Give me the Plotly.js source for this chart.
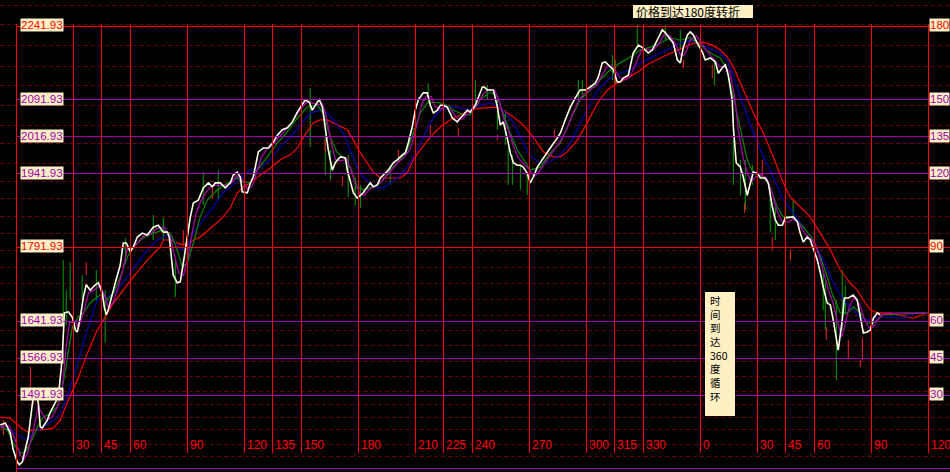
<!DOCTYPE html>
<html><head><meta charset="utf-8">
<script src="https://cdn.plot.ly/plotly-3.0.1.min.js"></script>
<style>html,body{margin:0;padding:0;background:#000;}#chart{width:950px;height:472px;}
#chart .shapelayer path{shape-rendering:crispEdges;}</style>
</head><body><div id="chart"></div>
<script>
// ---------- DATA (time in degrees, price in points) ----------
const gannPrices = [2241.93, 2091.93, 2016.93, 1941.93, 1791.93, 1641.93, 1566.93, 1491.93, 1341.93];
const gannPriceDeg = ['180', '150', '135', '120', '90', '60', '45', '30', ''];
const gannPriceColor = ['#FF0000', '#A000B0', '#A000B0', '#A000B0', '#FF0000', '#A000B0', '#A000B0', '#A000B0', '#A000B0'];
const timeDegrees = [30, 45, 60, 90, 120, 135, 150, 180, 210, 225, 240, 270, 300, 315, 330, 360, 390, 405, 420, 450, 480];
const timeLabels = ['30','45','60','90','120','135','150','180','210','225','240','270','300','315','330','0','30','45','60','90','120'];

const closeX = [-8.4,-5.8,-3.2,-1.6,0.5,1.6,3.2,4.7,6.3,8.9,10.0,11.6,12.6,13.7,16.3,17.9,20.5,22.1,23.2,24.2,25.3,27.4,29.5,31.1,32.1,33.7,35.3,36.8,38.9,41.6,43.2,45.3,46.3,47.4,48.4,50.5,52.1,54.7,56.3,57.9,60.0,61.6,63.7,66.3,68.9,72.1,74.7,77.4,79.5,80.5,81.6,82.6,84.7,86.3,87.9,90.0,91.6,93.2,95.8,98.4,101.1,103.2,104.7,107.4,110.0,112.6,114.2,116.3,117.9,118.9,121.6,123.2,124.7,127.4,130.0,132.6,135.3,137.4,140.0,142.6,145.3,147.9,150.5,152.1,154.2,155.8,158.4,159.5,161.1,162.6,164.2,166.3,167.9,170.5,173.2,174.2,175.8,177.4,179.5,181.1,182.6,184.7,186.3,187.9,190.0,191.6,193.2,195.8,198.4,200.5,203.2,204.7,206.3,208.4,210.0,211.6,214.2,216.3,217.9,219.5,221.6,223.2,224.7,226.8,229.5,232.1,233.7,235.3,237.4,238.9,241.6,243.2,245.3,246.3,247.9,251.1,253.2,254.7,256.3,258.4,260.0,261.6,263.7,265.3,266.8,268.9,270.5,272.1,274.2,276.8,279.5,282.1,284.7,286.3,288.9,291.6,294.2,296.8,299.5,302.1,304.7,306.3,308.4,310.0,312.6,314.2,316.3,317.9,319.5,322.1,324.7,327.4,330.0,332.6,334.7,337.4,340.0,341.6,343.2,345.8,347.9,349.5,351.1,353.2,354.7,356.3,358.4,361.1,362.6,365.3,367.9,369.5,371.6,373.2,374.7,376.8,377.4,378.9,381.1,382.6,384.7,386.3,387.9,390.0,391.6,394.2,395.8,397.9,399.5,401.1,403.2,404.7,407.4,408.9,411.1,412.6,414.2,416.3,417.9,419.5,421.6,423.2,424.7,426.8,428.4,430.0,431.6,432.6,434.7,435.8,437.9,440.5,442.6,444.2,445.8,447.9,449.5,451.1,453.2,454.7];
const closeY = [1431,1435,1415,1380,1356,1350,1356,1380,1407,1488,1502,1476,1427,1425,1441,1457,1476,1488,1529,1569,1659,1661,1650,1624,1620,1650,1691,1716,1705,1716,1720,1699,1671,1655,1665,1699,1720,1756,1801,1801,1783,1793,1813,1821,1817,1833,1837,1823,1823,1813,1766,1736,1720,1722,1760,1813,1854,1882,1888,1913,1923,1915,1923,1923,1913,1923,1939,1945,1935,1905,1903,1923,1935,1986,1994,1994,2006,2020,2031,2035,2047,2067,2081,2092,2087,2071,2087,2092,2077,2037,1990,1949,1964,1976,1974,1949,1923,1903,1892,1898,1903,1915,1923,1915,1919,1933,1939,1949,1964,1970,1980,1984,2004,2037,2071,2092,2106,2106,2081,2065,2071,2081,2081,2077,2055,2047,2055,2061,2071,2067,2081,2098,2118,2118,2112,2112,2077,2041,2047,2014,1984,1964,1959,1959,1955,1943,1923,1935,1955,1970,1984,2000,2014,2024,2051,2077,2096,2112,2112,2118,2126,2138,2167,2169,2159,2153,2128,2128,2136,2142,2187,2203,2197,2187,2193,2213,2234,2228,2220,2207,2173,2167,2199,2224,2230,2224,2207,2189,2173,2177,2169,2146,2157,2163,2142,2092,2037,1964,1955,1935,1898,1923,1945,1943,1933,1933,1923,1874,1848,1837,1837,1852,1854,1854,1844,1821,1803,1813,1807,1791,1766,1740,1711,1679,1675,1644,1604,1583,1644,1689,1689,1695,1685,1650,1618,1620,1624,1648,1659,1655];

const ma5X = [-8.4,-4,-1,2,4,6,9,11.5,13.5,16,19,22,24,26,28,31,33,35.5,38,41,44,46.5,48.5,51,53.5,56,58.5,61,63.5,67,70,74,78,81,83,85.5,88,90,92,94.5,97,100,103,106,110,113,116,119,121.5,124,126,129,132,135,138,141,144,147,150,153,156,159,161,163,165.5,168,171,174,176,178.5,181,183,186,189,192,195,198,201,204,207,209.5,211.5,213.5,216,218.5,220.5,223,226,229,232,234.5,237,240,243,246,249,252,254.5,256.5,259,261.5,264,267,270,272.5,275,278,281,284,287,290,293,296,299,302,305,308,311,314,317,320,323,326,329,332,335,338,341,344,347,350,352,355,358,361,364,367,370,373,375.5,378,380,382.5,385,387,389,392,395,398,400.5,403,406,409,412,415,418,421,423,425,427.5,430,432.5,434.5,436.5,438.5,441,444,446.5,449,451,453.5,456,465,479.5];
const ma5Y = [1427,1430,1405,1370,1360,1375,1420,1470,1455,1440,1448,1470,1500,1580,1640,1640,1630,1660,1700,1705,1715,1695,1668,1680,1710,1745,1790,1790,1800,1815,1818,1830,1832,1815,1780,1740,1735,1765,1810,1860,1885,1905,1918,1918,1918,1922,1938,1930,1912,1915,1940,1975,1992,2000,2015,2028,2040,2058,2075,2088,2085,2082,2085,2060,2010,1970,1968,1972,1950,1920,1900,1898,1910,1918,1925,1938,1952,1965,1975,1990,2020,2055,2085,2100,2098,2078,2073,2078,2070,2055,2052,2062,2070,2085,2105,2113,2110,2085,2055,2030,2000,1975,1962,1950,1935,1945,1962,1978,1995,2012,2035,2065,2090,2105,2113,2120,2140,2160,2160,2140,2132,2138,2165,2192,2195,2192,2205,2225,2222,2205,2180,2185,2215,2222,2205,2188,2175,2160,2158,2150,2100,2030,1975,1940,1925,1935,1940,1932,1900,1865,1845,1843,1850,1840,1820,1810,1795,1770,1740,1705,1678,1635,1610,1640,1672,1690,1675,1645,1628,1630,1645,1657,1659,1659];

const ma10X = [-8.4,-4.7,-1.6,2.1,4.7,7.4,11.1,14.2,17.9,21.6,24.7,26.8,29.5,32.6,35.3,38.9,42.6,45.8,47.9,51.1,54.7,58.4,61.6,66.8,72.1,77.4,81.1,84.7,87.4,90.0,93.2,96.8,100.5,105.8,111.1,116.3,118.9,123.2,126.8,132.1,137.4,142.6,147.9,153.2,158.4,161.6,165.3,168.9,172.1,175.8,179.5,182.6,186.3,191.6,196.8,202.1,205.8,208.9,212.6,216.3,219.5,224.7,230.0,235.3,238.9,244.2,249.5,253.2,256.3,260.0,263.7,266.8,270.5,275.8,281.1,286.3,291.6,296.8,302.1,307.4,312.6,317.9,323.2,328.4,333.7,338.9,344.2,349.5,354.7,360.0,365.3,370.5,374.2,377.4,381.1,384.7,387.9,393.2,396.8,400.5,403.7,408.9,414.2,419.5,423.2,426.8,430.0,433.7,437.4,440.5,444.2,447.9,451.1,456.3,479.5];
const ma10Y = [1427,1421,1394,1374,1376,1394,1427,1447,1455,1468,1516,1569,1630,1650,1659,1679,1691,1699,1685,1699,1732,1772,1793,1811,1821,1827,1821,1787,1752,1760,1801,1854,1888,1909,1923,1933,1925,1923,1949,1976,2004,2027,2055,2077,2081,2065,2016,1984,1976,1955,1915,1909,1913,1923,1949,1970,1990,2024,2065,2085,2087,2085,2071,2061,2061,2092,2108,2098,2065,2024,1990,1970,1949,1955,1984,2004,2051,2092,2112,2132,2153,2167,2179,2193,2199,2207,2218,2213,2218,2203,2187,2177,2153,2098,2031,1970,1943,1935,1915,1874,1854,1854,1833,1807,1772,1732,1691,1659,1659,1671,1659,1638,1638,1655,1659];

const ma20X = [-8.4,-3.2,2.1,5.8,8.9,14.2,19.5,23.2,26.8,32.1,37.4,42.6,47.9,53.2,58.4,63.7,68.9,74.2,79.5,82.6,86.3,90.0,93.2,98.4,103.7,108.9,114.2,117.9,123.2,128.4,133.7,138.9,144.2,149.5,154.7,160.0,163.7,166.8,172.1,175.8,179.5,182.6,186.3,190.0,193.2,196.8,200.5,203.7,207.4,211.1,214.2,217.9,221.6,226.8,232.1,237.4,244.2,249.5,253.2,256.3,261.6,266.8,270.5,275.8,281.1,286.3,291.6,296.8,302.1,307.4,312.6,317.9,323.2,328.4,333.7,338.9,344.2,349.5,354.7,360.0,365.3,370.5,374.2,377.4,382.6,387.9,393.2,398.4,403.7,408.9,414.2,419.5,424.7,430.0,435.3,440.5,444.2,447.9,453.2,460.0,466.8,474.2,479.5];
const ma20Y = [1427,1421,1407,1400,1415,1427,1441,1455,1488,1557,1624,1685,1691,1705,1732,1760,1787,1807,1817,1807,1787,1793,1821,1848,1874,1903,1919,1933,1949,1955,1970,1996,2016,2041,2065,2071,2065,2051,2024,1990,1955,1935,1923,1913,1913,1923,1933,1945,1964,1990,2016,2045,2065,2077,2077,2071,2081,2085,2081,2071,2045,2004,1976,1964,1966,1980,2004,2045,2085,2118,2136,2146,2153,2167,2177,2187,2197,2207,2213,2205,2195,2187,2173,2138,2085,2024,1976,1935,1888,1862,1833,1807,1766,1720,1685,1665,1650,1644,1650,1650,1648,1659,1659];

const ma60X = [-8.4,-3.2,2.1,5.8,8.9,14.2,19.5,23.2,26.8,32.1,37.4,42.6,45.8,51.1,56.3,61.6,68.9,75.8,77.4,81.1,84.7,87.9,91.6,96.8,102.1,107.4,112.6,116.3,119.5,123.2,128.4,133.7,138.9,144.2,147.9,151.1,156.3,160.0,163.7,168.9,174.2,177.4,181.1,184.7,187.9,191.6,195.3,202.1,205.8,208.9,212.6,217.9,223.2,228.4,233.7,238.9,244.2,253.2,256.3,261.6,266.8,272.1,277.4,282.6,286.3,290.0,295.3,300.5,305.8,311.1,316.3,321.6,326.8,332.1,338.9,345.8,351.1,356.3,361.6,366.3,370.5,374.2,377.4,382.6,387.9,393.2,398.4,403.7,407.4,412.6,417.9,423.2,428.4,433.7,438.9,442.6,445.8,449.5,453.2,460.0,468.9,472.1,479.5];
const ma60Y = [1447,1445,1427,1417,1421,1421,1425,1441,1476,1522,1577,1624,1644,1679,1705,1732,1766,1793,1807,1807,1801,1797,1803,1813,1831,1848,1872,1903,1915,1923,1939,1953,1970,1980,1994,2016,2045,2051,2051,2041,2031,2010,1984,1964,1945,1933,1933,1933,1943,1970,1990,2016,2037,2051,2061,2071,2075,2077,2071,2057,2041,2016,1986,1976,1976,1986,2010,2045,2085,2112,2126,2136,2148,2163,2177,2189,2199,2207,2209,2203,2193,2179,2159,2112,2065,2024,1976,1923,1894,1874,1854,1821,1787,1746,1720,1705,1685,1665,1659,1659,1650,1648,1659];

const upBarX  = [-6.8,7.4,8.9,36.8,87.9,103.2,120.0,162.6,171.6,201.1,217.9,232.6,253.2,283.2,351.1,366.3,383.2,392.6,397.9,407.4,426.3,437.9,445.3,444.2];
const upBarHi = [1441,1549,1492,1762,1827,1913,1923,2010,1937,1990,2041,2035,2020,2031,2173,2163,1882,1970,1813,1787,1630,1604,1608,1563];
const upBarLo = [1411,1502,1472,1736,1797,1892,1894,1986,1917,1966,2020,2016,2010,2014,2157,2136,1862,1933,1787,1766,1604,1567,1563,1549];
const dnBarX  = [24.7,26.3,28.4,34.7,42.1,46.8,57.4,72.1,77.4,83.7,98.4,106.3,154.7,162.6,165.3,174.7,178.4,181.1,196.8,216.8,241.6,247.9,253.2,257.4,258.9,261.1,265.3,268.9,295.8,297.9,313.7,315.3,326.8,341.6,349.5,367.4,377.4,381.1,383.7,387.4,396.8,399.5,404.7,408.9,424.7,425.8,431.6,434.7,436.3];
const dnBarHi = [1766,1705,1762,1736,1746,1705,1811,1858,1852,1766,1945,1949,2116,2020,1990,1980,1933,1919,1953,2126,2132,2122,2092,2071,1994,1980,1959,1943,2132,2132,2183,2173,2244,2244,2234,2173,2010,1970,1970,1959,1909,1878,1888,1888,1746,1726,1685,1746,1716];
const dnBarLo = [1648,1634,1685,1685,1685,1598,1762,1807,1807,1691,1878,1888,1996,1939,1929,1894,1878,1872,1919,2085,2081,2092,2031,2000,1919,1919,1909,1898,2092,2102,2132,2122,2203,2213,2193,2122,1919,1898,1868,1919,1823,1807,1827,1848,1665,1624,1522,1624,1655];

// ---------- LAYOUT HELPERS (pixel geometry of the 950x472 canvas) ----------
const W = 950, H = 472;
const PX0 = 16.3, PXDEG = 1.9;                 // x pixel of 0 degrees, pixels per degree
const PYREF = 26, PPRICE = 2.0325;              // y pixel of 2241.93, price per pixel
const xMin = -PX0 / PXDEG, xMax = (W - PX0) / PXDEG;
const yMax = 2241.93 + PYREF * PPRICE, yMin = yMax - H * PPRICE;
const pyPaper = p => 1 - p / H;
const pxPaper = p => p / W;

const RED = '#FF0000', CREAM = '#FFF0C4';
const NARROW = 'Liberation Sans Narrow, Arial Narrow, sans-serif';
const CJK = 'Noto Sans CJK SC, sans-serif';

function bars(xs, hi, lo, color) {
  const x = [], y = [];
  xs.forEach((v, i) => { x.push(v, v, null); y.push(hi[i], lo[i], null); });
  return {type: 'scatter', mode: 'lines', x, y, line: {color, width: 1}, hoverinfo: 'skip', showlegend: false};
}
function line(x, y, color, width) {
  return {type: 'scatter', mode: 'lines', x, y, line: {color, width}, hoverinfo: 'skip', showlegend: false};
}

const traces = [
  bars(dnBarX, dnBarHi, dnBarLo, '#00A000'),
  bars(upBarX, upBarHi, upBarLo, '#FF2020'),
  line(ma60X, ma60Y, '#FF0000', 1.2),
  line(ma20X, ma20Y, '#0000B0', 1.2),
  line(ma10X, ma10Y, '#008800', 1.2),
  line(ma5X, ma5Y, '#B000B0', 1.2),
  line(closeX, closeY, '#FFFFE8', 1.6)
];

const shapes = [];
// dashed dark-red grid
const gridPx = [5, 24, 45, 66, 85, 105, 125, 143, 163, 181, 198, 216, 233, 250, 267, 283, 299, 315, 330, 345, 361, 376, 391, 404, 417, 429, 444, 456];
gridPx.forEach(p => shapes.push({type: 'line', xref: 'paper', yref: 'paper', x0: 0, x1: 1, y0: pyPaper(p), y1: pyPaper(p),
  line: {color: '#6E0000', width: 1, dash: '4px,3px'}, layer: 'below'}));
// horizontal gann price lines
gannPrices.forEach((p, i) => shapes.push({type: 'line', xref: 'x', yref: 'y', x0: 0, x1: xMax, y0: p, y1: p,
  line: {color: gannPriceColor[i], width: 1}}));
// vertical time cycle lines
shapes.push({type: 'line', xref: 'x', yref: 'paper', x0: 0, x1: 0, y0: 0, y1: pyPaper(24), line: {color: RED, width: 1}});
timeDegrees.forEach(d => shapes.push({type: 'line', xref: 'x', yref: 'paper', x0: d, x1: d, y0: pyPaper(453), y1: pyPaper(24),
  line: {color: RED, width: 1}}));
// note boxes
shapes.push({type: 'rect', xref: 'paper', yref: 'paper', x0: pxPaper(633), x1: pxPaper(752.5), y0: pyPaper(17.5), y1: pyPaper(4.5),
  fillcolor: CREAM, line: {width: 0}});
shapes.push({type: 'rect', xref: 'paper', yref: 'paper', x0: pxPaper(705), x1: pxPaper(735), y0: pyPaper(416), y1: pyPaper(292),
  fillcolor: CREAM, line: {width: 0}});

const annotations = [];
gannPrices.forEach((p, i) => {
  if (!gannPriceDeg[i]) return;
  annotations.push({xref: 'paper', yref: 'y', x: pxPaper(20), y: p, xanchor: 'left', yanchor: 'middle', yshift: 1,
    text: p.toFixed(2), showarrow: false, bgcolor: CREAM, borderpad: 0,
    font: {family: NARROW, size: 11.5, color: gannPriceColor[i]}});
  annotations.push({xref: 'paper', yref: 'y', x: pxPaper(929), y: p, xanchor: 'left', yanchor: 'middle', yshift: 1,
    text: gannPriceDeg[i], showarrow: false, bgcolor: CREAM, borderpad: 0,
    font: {family: NARROW, size: 11.5, color: gannPriceColor[i]}});
});
timeDegrees.forEach((d, i) => annotations.push({xref: 'x', yref: 'paper', x: d, y: pyPaper(445), xanchor: 'left', yanchor: 'middle',
  xshift: 0.5, text: timeLabels[i], showarrow: false, font: {family: NARROW, size: 12, color: RED}}));
annotations.push({xref: 'paper', yref: 'paper', x: pxPaper(634), y: pyPaper(11), xanchor: 'left', yanchor: 'middle',
  text: '价格到达180度转折', showarrow: false, font: {family: CJK, size: 12, color: '#000'}});
annotations.push({xref: 'paper', yref: 'paper', x: pxPaper(709), y: pyPaper(292), xanchor: 'left', yanchor: 'top',
  align: 'left', borderpad: 0, showarrow: false,
  text: ['时', '间', '到', '达', '360', '度', '循', '环'].join('<br>'),
  font: {family: CJK, size: 10.5, color: '#000'}});

const layout = {
  width: W, height: H, margin: {l: 0, r: 0, t: 0, b: 0, pad: 0},
  paper_bgcolor: '#000', plot_bgcolor: '#000', showlegend: false,
  xaxis: {range: [xMin, xMax], visible: false, fixedrange: true},
  yaxis: {range: [yMin, yMax], visible: false, fixedrange: true},
  shapes, annotations
};
Plotly.newPlot('chart', traces, layout, {staticPlot: true, displayModeBar: false});
</script></body></html>
